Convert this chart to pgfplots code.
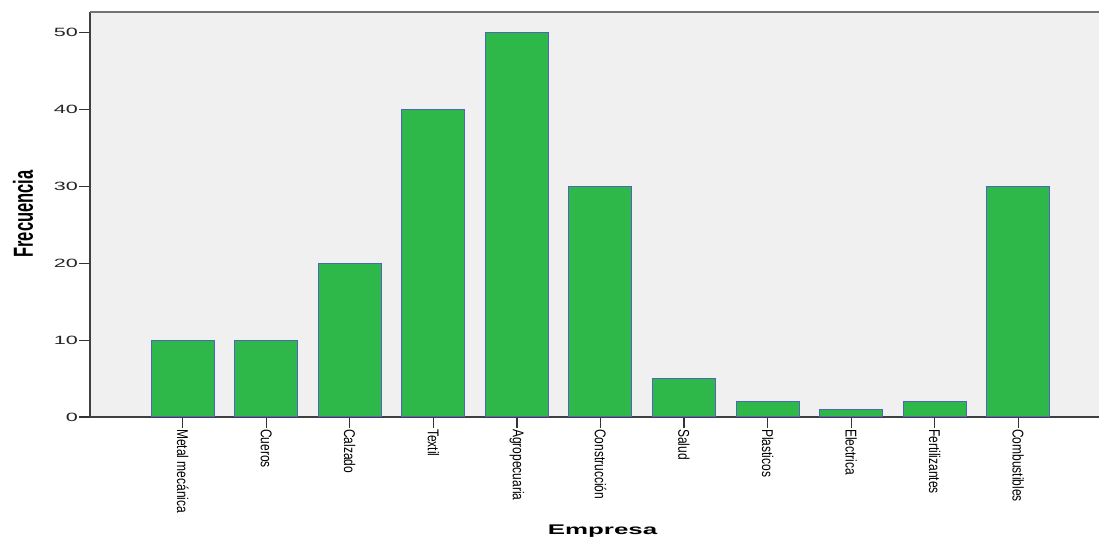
\documentclass[border=0pt]{standalone}
\usepackage{fontspec}
\usepackage{graphicx}
\usepackage{pgfplots}
\pgfplotsset{compat=1.18}
\setmainfont{Liberation Sans}
\newfontfamily\lib{Liberation Sans}
\definecolor{barfill}{RGB}{46,184,74}
\definecolor{bardraw}{RGB}{80,100,190}
\definecolor{bg}{RGB}{240,240,240}
\newcommand{\yl}[1]{\scalebox{1.8}[1]{#1}}
\newcommand{\xl}[1]{\scalebox{1}[1.3]{#1}}
\begin{document}
\begin{tikzpicture}[x=1pt,y=1pt]
\useasboundingbox (0,0) rectangle (1099,540);
\begin{axis}[
  at={(90pt,123pt)}, anchor=south west,
  scale only axis, width=1009pt, height=405pt,
  xmin=-1.109, xmax=10.966,
  ymin=0, ymax=52.67,
  axis background/.style={fill=bg},
  axis x line*=bottom, axis y line*=left,
  axis line style={-, draw=black!75, line width=1.5pt},
  tick align=outside,
  major tick length=11pt,
  tick style={black!80, line width=1.2pt},
  ytick={0,10,20,30,40,50},
  yticklabels={\yl{0},\yl{10},\yl{20},\yl{30},\yl{40},\yl{50}},
  yticklabel style={font=\fontsize{12}{14}\selectfont\lib, text=black!85, inner sep=1pt},
  xtick={0,...,10},
  xticklabels={\xl{Metal mecánica},\xl{Cueros},\xl{Calzado},\xl{Textil},\xl{Agropecuaria},\xl{Construcción},\xl{Salud},\xl{Plasticos},\xl{Electrica},\xl{Fertilizantes},\xl{Combustibles}},
  xticklabel style={font=\fontsize{12}{14}\selectfont\lib, rotate=-90, anchor=west, inner sep=1pt},
  xlabel={\scalebox{1.85}[1]{Empresa}},
  xlabel style={font=\fontsize{14}{16}\selectfont\lib\bfseries, at={(axis description cs:0.508,-0.281)}, anchor=center},
  ylabel={\scalebox{1}[1.67]{Frecuencia}},
  ylabel style={font=\fontsize{16.5}{18}\selectfont\lib\bfseries, at={(axis description cs:-0.0664,0.501)}, anchor=center, rotate=0},
  clip=false,
]
\addplot[ybar, bar width=63pt, bar shift=0pt, fill=barfill, draw=bardraw, line width=1pt]
  coordinates {(0,10) (1,10) (2,20) (3,40) (4,50) (5,30) (6,5) (7,2) (8,1) (9,2) (10,30)};
\draw[black!55, line width=1.5pt] (rel axis cs:0,1) -- (rel axis cs:1,1);
\end{axis}
\end{tikzpicture}
\end{document}
